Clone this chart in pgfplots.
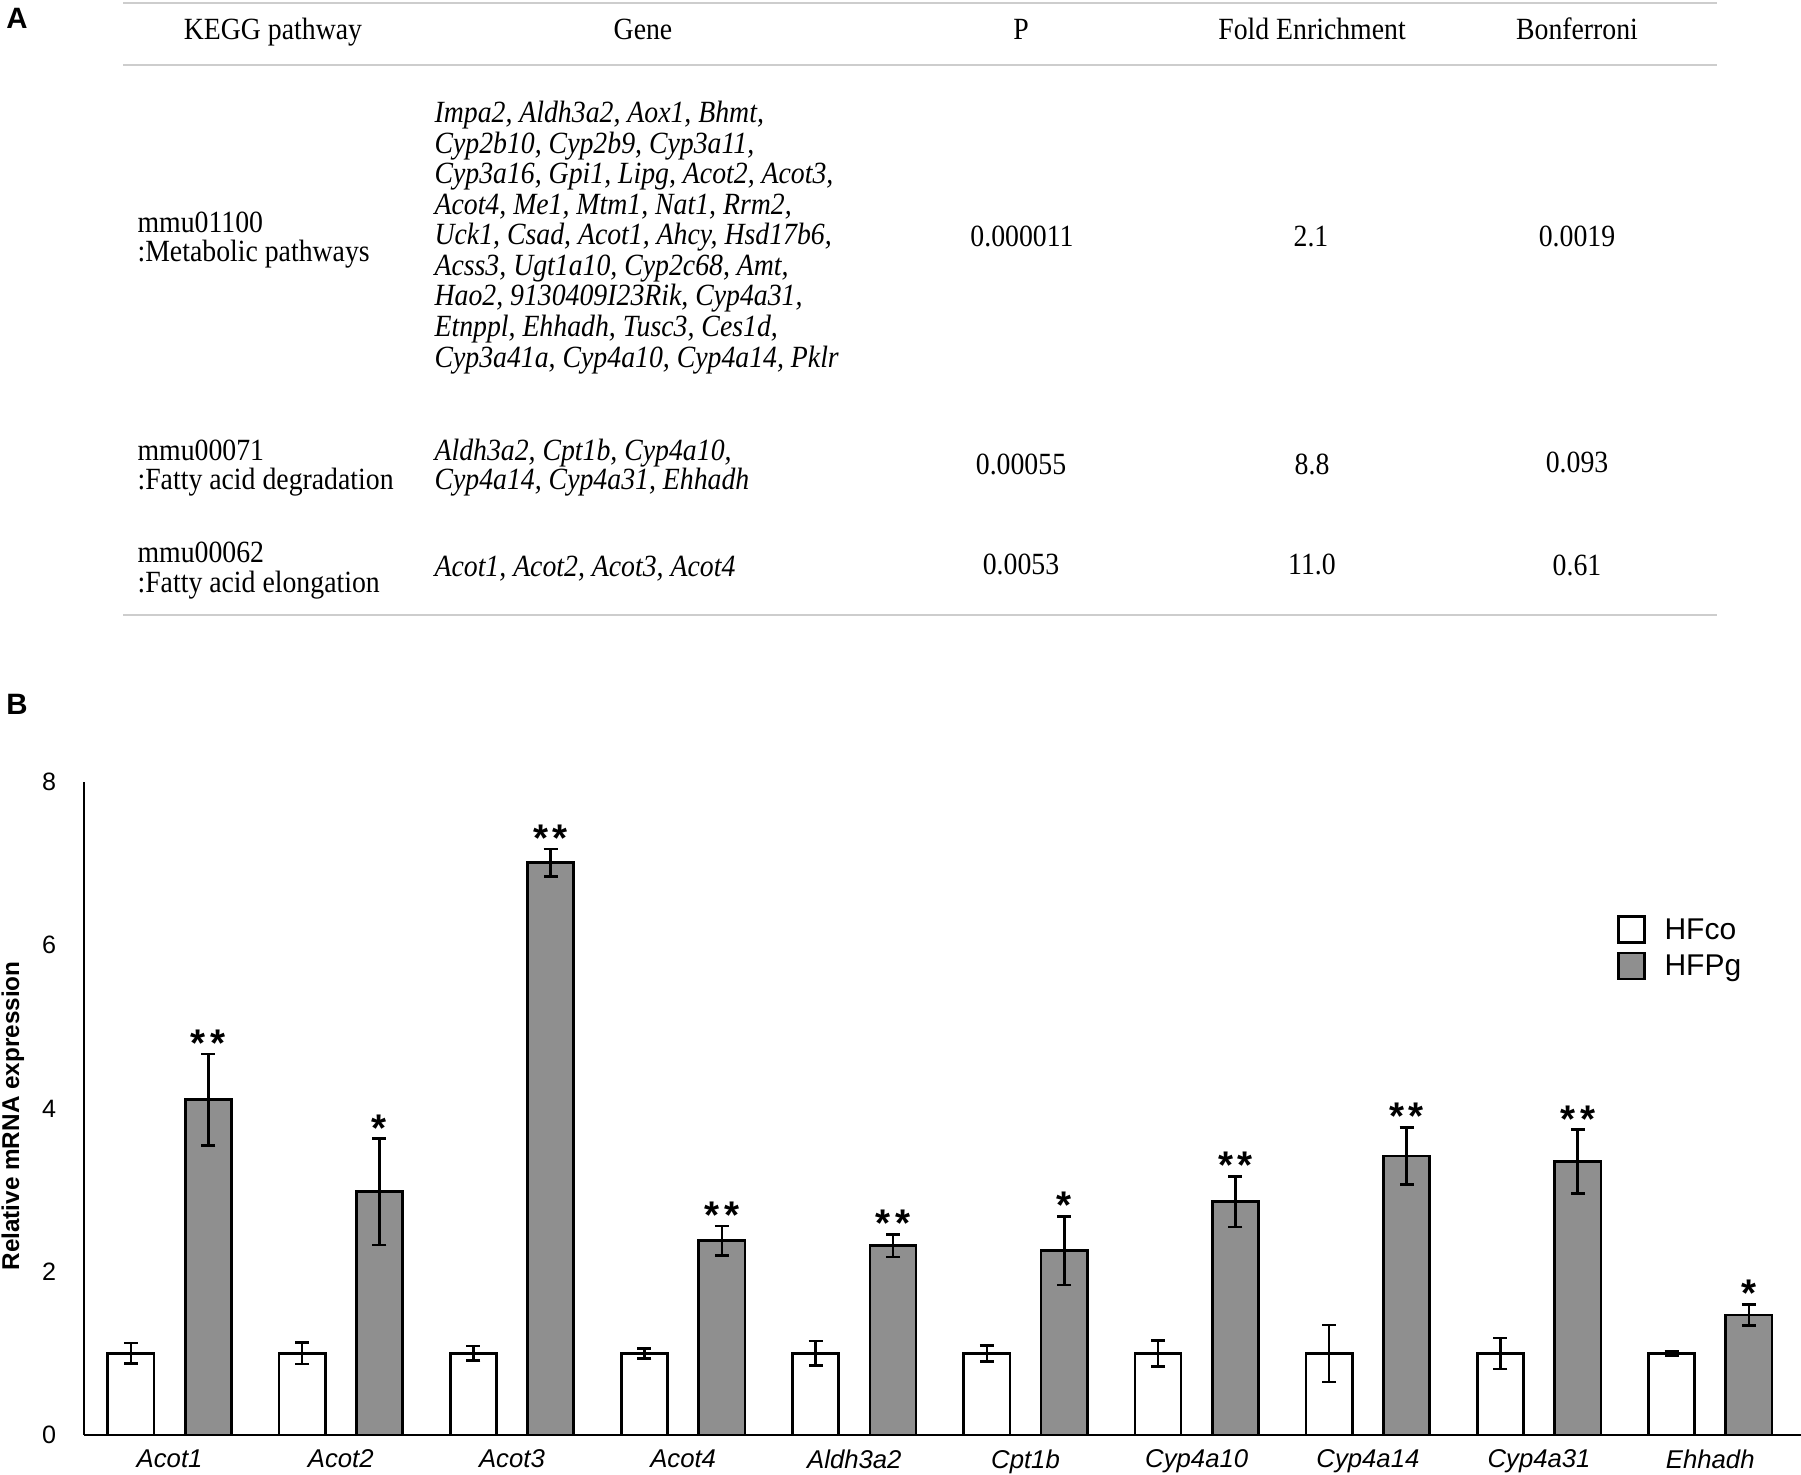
\documentclass[border=0pt]{standalone}
\usepackage{fontspec}
\setmainfont{Liberation Serif}
\newfontfamily\tabserif{Liberation Serif}[FakeStretch=0.9]
\newfontfamily\arial{Liberation Sans}
\usepackage{pgfplots}
\pgfplotsset{compat=1.18}
\usepackage{pgfplotstable}
\definecolor{bargray}{RGB}{143,143,143}
\definecolor{rulegray}{RGB}{205,205,205}
\pgfplotsset{boxlegend/.style={legend image code/.code={\draw[##1, line width=0.95pt] (0pt,-3.7pt) rectangle (9.1pt,5.4pt);}}}

\pgfplotstableread{
x y e
-0.226 1.00 0.125
0.774 1.00 0.13
1.774 1.00 0.09
2.774 1.00 0.06
3.774 1.00 0.15
4.774 1.00 0.10
5.774 1.00 0.16
6.774 1.00 0.35
7.774 1.00 0.19
8.774 1.00 0.03
}\hfco

\pgfplotstableread{
x y e
0.226 4.11 0.56
1.226 2.98 0.65
2.226 7.01 0.17
3.226 2.38 0.18
4.226 2.32 0.14
5.226 2.26 0.42
6.226 2.86 0.31
7.226 3.42 0.35
8.226 3.35 0.39
9.226 1.47 0.13
}\hfpg

\newcommand{\tabfont}{\tabserif\fontsize{10.8pt}{10.8pt}\selectfont}
\newcommand{\starfont}{\arial\bfseries\fontsize{13.5pt}{13.5pt}\selectfont}

\begin{document}
\begin{tikzpicture}
\path[use as bounding box] (0,0) rectangle (630.35pt,-516.25pt);
\begin{scope}[x=0.35pt,y=-0.35pt]
% panel labels
\node[font=\arial\bfseries\fontsize{10.3pt}{11pt}\selectfont, anchor=center] at (17,18) {A};
\node[font=\arial\bfseries\fontsize{10.3pt}{11pt}\selectfont, anchor=center] at (17,704) {B};
% table rules
\draw[rulegray, line width=0.6pt] (123,3) -- (1717,3);
\draw[rulegray, line width=0.6pt] (123,65) -- (1717,65);
\draw[rulegray, line width=0.6pt] (123,615) -- (1717,615);
% header
\begin{scope}[every node/.style={font=\tabfont, inner sep=0pt, anchor=mid}]
\node at (273,33) {KEGG pathway};
\node at (643,33) {Gene};
\node at (1021,33) {P};
\node at (1312,33) {Fold Enrichment};
\node at (1577,33) {Bonferroni};
% numbers
\node at (1022,240) {0.000011};
\node at (1311,240) {2.1};
\node at (1577,240) {0.0019};
\node at (1021,467.5) {0.00055};
\node at (1312,467.5) {8.8};
\node at (1577,465.5) {0.093};
\node at (1021,568) {0.0053};
\node at (1312,568) {11.0};
\node at (1577,569) {0.61};
\end{scope}
\begin{scope}[every node/.style={font=\tabfont, inner sep=0pt, anchor=mid west}]
\node at (137,226) {mmu01100};
\node at (137,255) {:Metabolic pathways};
\node at (137,453.5) {mmu00071};
\node at (137,482.5) {:Fatty acid degradation};
\node at (137,555.5) {mmu00062};
\node at (137,585.5) {:Fatty acid elongation};
\end{scope}
\begin{scope}[every node/.style={font=\tabfont\itshape, inner sep=0pt, anchor=mid west}]
\node at (434,116.0) {Impa2, Aldh3a2, Aox1, Bhmt,};
\node at (434,146.6) {Cyp2b10, Cyp2b9, Cyp3a11,};
\node at (434,177.1) {Cyp3a16, Gpi1, Lipg, Acot2, Acot3,};
\node at (434,207.7) {Acot4, Me1, Mtm1, Nat1, Rrm2,};
\node at (434,238.2) {Uck1, Csad, Acot1, Ahcy, Hsd17b6,};
\node at (434,268.8) {Acss3, Ugt1a10, Cyp2c68, Amt,};
\node at (434,299.4) {Hao2, 9130409I23Rik, Cyp4a31,};
\node at (434,329.9) {Etnppl, Ehhadh, Tusc3, Ces1d,};
\node at (434,360.5) {Cyp3a41a, Cyp4a10, Cyp4a14, Pklr};
\node at (434,453.5) {Aldh3a2, Cpt1b, Cyp4a10,};
\node at (434,482.5) {Cyp4a14, Cyp4a31, Ehhadh};
\node at (434,569.5) {Acot1, Acot2, Acot3, Acot4};
\end{scope}
\end{scope}

\begin{axis}[
  at={(29.4pt,-502.25pt)}, anchor=south west,
  scale only axis, width=600.95pt, height=228.55pt,
  xmin=-0.5, xmax=9.53, ymin=0, ymax=8,
  axis lines*=left,
  axis line style={line width=1pt, black},
  clip=false,
  major tick length=0pt,
  ytick={0,2,4,6,8},
  xtick={0,...,9},
  xticklabels={Acot1,Acot2,Acot3,Acot4,Aldh3a2,Cpt1b,Cyp4a10,Cyp4a14,Cyp4a31,Ehhadh},
  xticklabel style={font=\arial\itshape\fontsize{9pt}{10pt}\selectfont, inner sep=0pt, anchor=north, yshift=-4.9pt},
  yticklabel style={font=\arial\fontsize{8.8pt}{10pt}\selectfont, inner sep=0pt, anchor=east, xshift=-9.6pt},
  /pgf/number format/assume math mode=true,
  ylabel={Relative mRNA expression},
  every axis y label/.style={at={(axis description cs:0,0.5)}, xshift=-24.9pt, yshift=-2.6pt, rotate=90, anchor=center,
    font=\arial\bfseries\fontsize{8.5pt}{10pt}\selectfont},
  legend style={at={(axis description cs:0.893,0.796)}, anchor=north west, draw=none, fill=none,
    inner sep=0pt, outer sep=0pt, row sep=2.1pt, column sep=6.5pt,
    font=\arial\fontsize{10.5pt}{11pt}\selectfont,
    nodes={inner sep=0pt, text height=7.2pt, text depth=2.3pt}},
  legend cell align=left,
]
\addplot[ybar, bar width=0.27, bar shift=0pt, fill=white, draw=black, line width=0.95pt, boxlegend,
  error bars/.cd, y dir=both, y explicit,
  error bar style={line width=0.9pt, black},
  error mark options={rotate=90, line width=0.9pt, black, mark size=2.45pt}]
  table[x=x, y=y, y error=e] {\hfco};
\addlegendentry{HFco}
\addplot[ybar, bar width=0.27, bar shift=0pt, fill=bargray, draw=black, line width=0.95pt, boxlegend,
  error bars/.cd, y dir=both, y explicit,
  error bar style={line width=0.9pt, black},
  error mark options={rotate=90, line width=0.9pt, black, mark size=2.45pt}]
  table[x=x, y=y, y error=e] {\hfpg};
\addlegendentry{HFPg}
% significance stars
\begin{scope}[every node/.style={font=\starfont, anchor=base, inner sep=0pt, yshift=-0.8pt}]
\node at (axis cs:0.226,4.67) {*\kern1.6pt*};
\node at (axis cs:1.226,3.63) {*};
\node at (axis cs:2.226,7.18) {*\kern1.6pt*};
\node at (axis cs:3.226,2.56) {*\kern1.6pt*};
\node at (axis cs:4.226,2.46) {*\kern1.6pt*};
\node at (axis cs:5.226,2.68) {*};
\node at (axis cs:6.226,3.17) {*\kern1.6pt*};
\node at (axis cs:7.226,3.77) {*\kern1.6pt*};
\node at (axis cs:8.226,3.74) {*\kern1.6pt*};
\node at (axis cs:9.226,1.60) {*};
\end{scope}
\end{axis}
\end{tikzpicture}
\end{document}
